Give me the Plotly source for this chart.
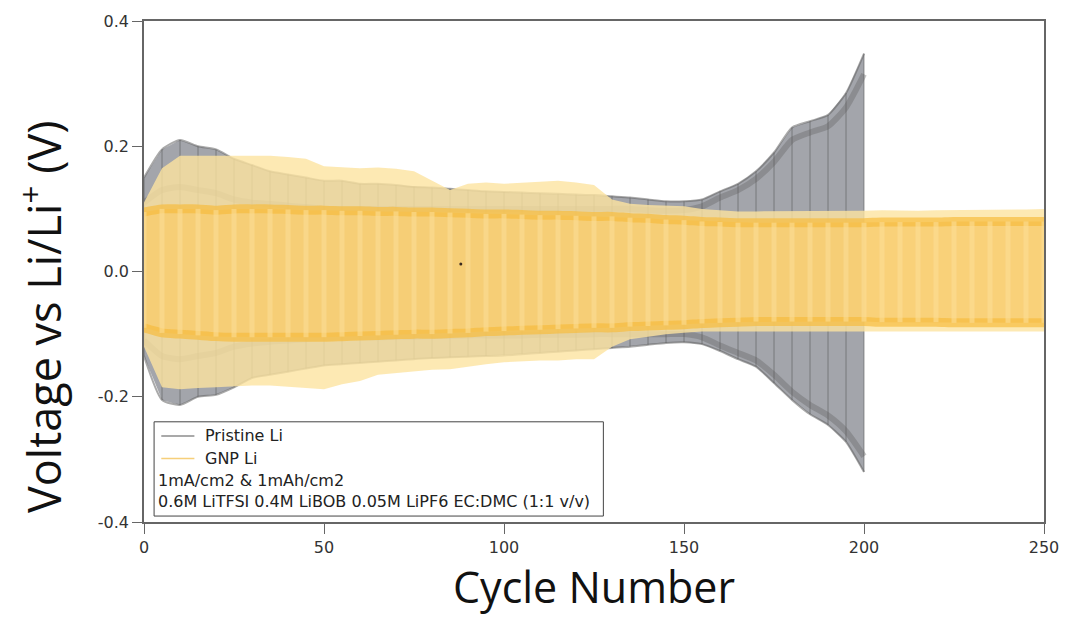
import plotly.graph_objects as go

# ---------------- data ----------------
pristine_cycles = [0, 5, 10, 15, 20, 25, 30, 35, 40, 45, 50, 55, 60, 65, 70, 75, 80, 85, 90, 95,
                   100, 105, 110, 115, 120, 125, 130, 135, 140, 145, 150, 155, 160, 165, 170, 175,
                   180, 185, 190, 195, 200]
pristine_peak_pos = [0.150, 0.195, 0.210, 0.200, 0.195, 0.180, 0.170, 0.160, 0.155, 0.150, 0.145,
                     0.145, 0.140, 0.140, 0.138, 0.135, 0.134, 0.132, 0.130, 0.128, 0.127, 0.126,
                     0.125, 0.124, 0.123, 0.122, 0.120, 0.118, 0.115, 0.112, 0.112, 0.115, 0.128,
                     0.140, 0.160, 0.190, 0.230, 0.240, 0.250, 0.285, 0.348]
pristine_peak_neg = [-0.135, -0.205, -0.213, -0.200, -0.197, -0.185, -0.170, -0.165, -0.160, -0.155,
                     -0.150, -0.148, -0.146, -0.144, -0.142, -0.140, -0.138, -0.137, -0.136, -0.135,
                     -0.134, -0.132, -0.130, -0.128, -0.126, -0.124, -0.122, -0.120, -0.117, -0.114,
                     -0.113, -0.116, -0.127, -0.140, -0.152, -0.178, -0.205, -0.228, -0.245, -0.272,
                     -0.320]
pristine_plat_pos = [0.110, 0.130, 0.135, 0.130, 0.125, 0.115, 0.110, 0.108, 0.105, 0.103, 0.100,
                     0.100, 0.100, 0.100, 0.100, 0.100, 0.100, 0.100, 0.100, 0.100, 0.100, 0.100,
                     0.100, 0.100, 0.100, 0.100, 0.100, 0.100, 0.098, 0.097, 0.098, 0.104, 0.118,
                     0.130, 0.148, 0.175, 0.210, 0.222, 0.232, 0.262, 0.315]
pristine_plat_neg = [-0.110, -0.135, -0.140, -0.135, -0.130, -0.120, -0.115, -0.112, -0.110, -0.108,
                     -0.106, -0.105, -0.105, -0.105, -0.104, -0.104, -0.103, -0.103, -0.102, -0.102,
                     -0.102, -0.102, -0.101, -0.101, -0.101, -0.100, -0.100, -0.100, -0.100, -0.100,
                     -0.100, -0.105, -0.118, -0.130, -0.142, -0.165, -0.192, -0.213, -0.230, -0.255,
                     -0.295]

gnp_cycles = [0, 5, 10, 15, 20, 25, 30, 35, 40, 45, 50, 55, 60, 65, 70, 75, 80, 85, 90, 95,
              100, 105, 110, 115, 120, 125, 130, 135, 140, 145, 150, 155, 160, 165, 170, 175,
              180, 185, 190, 195, 200, 205, 210, 215, 220, 225, 230, 235, 240, 245, 250]
gnp_peak_pos = [0.110, 0.165, 0.185, 0.185, 0.185, 0.185, 0.186, 0.185, 0.183, 0.180, 0.168,
                0.166, 0.165, 0.166, 0.164, 0.160, 0.145, 0.130, 0.140, 0.142, 0.140, 0.142,
                0.143, 0.145, 0.142, 0.138, 0.115, 0.108, 0.106, 0.105, 0.104, 0.100, 0.098,
                0.096, 0.096, 0.096, 0.096, 0.096, 0.096, 0.097, 0.097, 0.098, 0.097, 0.097,
                0.098, 0.098, 0.098, 0.099, 0.099, 0.099, 0.100]
gnp_peak_neg = [-0.120, -0.185, -0.188, -0.186, -0.185, -0.184, -0.182, -0.182, -0.183, -0.186,
                -0.188, -0.180, -0.175, -0.165, -0.162, -0.160, -0.157, -0.156, -0.152, -0.148,
                -0.145, -0.143, -0.142, -0.142, -0.140, -0.140, -0.120, -0.108, -0.104, -0.100,
                -0.098, -0.096, -0.095, -0.095, -0.095, -0.095, -0.095, -0.095, -0.095, -0.095,
                -0.095, -0.095, -0.095, -0.096, -0.096, -0.096, -0.096, -0.096, -0.096, -0.096,
                -0.096]
gnp_plat_pos = [0.095, 0.100, 0.100, 0.100, 0.098, 0.100, 0.100, 0.100, 0.099, 0.098, 0.098,
                0.097, 0.097, 0.096, 0.096, 0.095, 0.095, 0.094, 0.093, 0.092, 0.092, 0.091,
                0.090, 0.090, 0.089, 0.088, 0.088, 0.086, 0.085, 0.083, 0.082, 0.080, 0.079,
                0.078, 0.078, 0.078, 0.078, 0.078, 0.078, 0.078, 0.078, 0.079, 0.079, 0.079,
                0.079, 0.080, 0.080, 0.080, 0.080, 0.080, 0.080]
gnp_plat_neg = [-0.090, -0.098, -0.100, -0.102, -0.104, -0.105, -0.105, -0.105, -0.105, -0.105,
                -0.105, -0.104, -0.103, -0.102, -0.101, -0.100, -0.100, -0.099, -0.098, -0.096,
                -0.095, -0.094, -0.093, -0.092, -0.091, -0.090, -0.090, -0.088, -0.087, -0.086,
                -0.085, -0.083, -0.082, -0.081, -0.080, -0.080, -0.080, -0.080, -0.080, -0.080,
                -0.080, -0.081, -0.081, -0.081, -0.081, -0.082, -0.082, -0.082, -0.082, -0.082,
                -0.082]

stray_x = [88]
stray_y = [0.012]

legend_names = ["Pristine Li", "GNP Li"]
legend_notes = ["1mA/cm2 & 1mAh/cm2", "0.6M LiTFSI 0.4M LiBOB 0.05M LiPF6 EC:DMC (1:1 v/v)"]
x_ticks = [0, 50, 100, 150, 200, 250]
y_ticks = [-0.4, -0.2, 0.0, 0.2, 0.4]
y_tick_text = ["-0.4", "-0.2", "0.0", "0.2", "0.4"]

TITLE_FONT = "Open Sans"
SMALL_FONT = "DejaVu Sans"

fig = go.Figure()


def band(xs, top, bottom, color):
    fig.add_trace(go.Scatter(
        x=list(xs) + list(xs)[::-1], y=list(top) + list(bottom)[::-1],
        fill="toself", fillcolor=color, mode="lines", line=dict(width=0),
        hoverinfo="skip", showlegend=False))


def vlines(xs, top, bottom, color, width):
    vx, vy = [], []
    for c, t, b in zip(xs, top, bottom):
        vx += [c, c, None]
        vy += [b, t, None]
    fig.add_trace(go.Scatter(x=vx, y=vy, mode="lines",
                             line=dict(color=color, width=width),
                             hoverinfo="skip", showlegend=False))


def curve(xs, ys, color, width):
    fig.add_trace(go.Scatter(x=xs, y=ys, mode="lines",
                             line=dict(color=color, width=width, shape="spline", smoothing=0.6),
                             hoverinfo="skip", showlegend=False))


# Pristine Li (grey)
band(pristine_cycles, pristine_peak_pos, pristine_peak_neg, "rgba(158,160,166,0.95)")
curve(pristine_cycles, pristine_plat_pos, "rgba(95,95,95,0.35)", 6)
curve(pristine_cycles, pristine_plat_neg, "rgba(95,95,95,0.35)", 6)
curve(pristine_cycles, pristine_peak_pos, "rgba(100,100,100,0.55)", 2)
curve(pristine_cycles, pristine_peak_neg, "rgba(100,100,100,0.55)", 2)
vlines(pristine_cycles, pristine_peak_pos, pristine_peak_neg, "rgba(90,90,90,0.6)", 1)

# GNP Li (yellow)
band(gnp_cycles, gnp_peak_pos, gnp_peak_neg, "rgba(252,228,160,0.80)")
band(gnp_cycles, gnp_plat_pos, gnp_plat_neg, "rgba(248,205,110,0.85)")
curve(gnp_cycles, gnp_plat_pos, "rgba(246,188,62,0.70)", 9)
curve(gnp_cycles, gnp_plat_neg, "rgba(246,188,62,0.70)", 9)
vlines(gnp_cycles, gnp_plat_pos, gnp_plat_neg, "rgba(252,222,150,0.6)", 5)

fig.add_trace(go.Scatter(x=stray_x, y=stray_y, mode="markers",
                         marker=dict(color="#3a2a20", size=3),
                         hoverinfo="skip", showlegend=False))

# legend box (data coordinates)
fig.add_shape(type="rect", x0=2.8, x1=127.6, y0=-0.3905, y1=-0.240,
              line=dict(color="#444", width=1), fillcolor="white", layer="above")
legend_y = [-0.2625, -0.2985]
legend_colors = ["#8c8c8c", "#f6cf7a"]
for name, yy, col in zip(legend_names, legend_y, legend_colors):
    fig.add_shape(type="line", x0=4.8, x1=14.0, y0=yy, y1=yy,
                  line=dict(color=col, width=1.5), layer="above")
    fig.add_annotation(x=16.5, y=yy, text=name, showarrow=False, xanchor="left",
                       yanchor="middle", font=dict(family=SMALL_FONT, size=16, color="#222"))
for note, yy in zip(legend_notes, [-0.3335, -0.367]):
    fig.add_annotation(x=3.2, y=yy, text=note, showarrow=False, xanchor="left",
                       yanchor="middle", font=dict(family=SMALL_FONT, size=16, color="#222"))

# y title as annotation
fig.add_annotation(xref="paper", yref="paper", x=-0.115, y=0.41,
                   text="Voltage vs Li/Li<sup>+</sup> (V)", textangle=-90, showarrow=False,
                   xanchor="center", yanchor="middle",
                   font=dict(family=TITLE_FONT, size=45, color="#111"))

fig.update_layout(
    width=1071, height=621,
    margin=dict(l=144, r=21, t=16, b=99),
    paper_bgcolor="white", plot_bgcolor="white",
    showlegend=False,
    xaxis=dict(range=[0, 250], tickvals=x_ticks, ticks="outside", ticklen=10,
               tickcolor="#666", linecolor="#666", linewidth=1.5, mirror=True,
               showgrid=False, zeroline=False,
               tickfont=dict(family=SMALL_FONT, size=16, color="#333"),
               title=dict(text="Cycle Number", standoff=15,
                          font=dict(family=TITLE_FONT, size=43, color="#111"))),
    yaxis=dict(range=[-0.4, 0.4], tickvals=y_ticks, ticktext=y_tick_text, ticks="outside",
               ticklen=10, tickcolor="#666", linecolor="#666", linewidth=1.5, mirror=True,
               showgrid=False, zeroline=False,
               tickfont=dict(family=SMALL_FONT, size=16, color="#333")),
)

fig.write_html("out.html")
